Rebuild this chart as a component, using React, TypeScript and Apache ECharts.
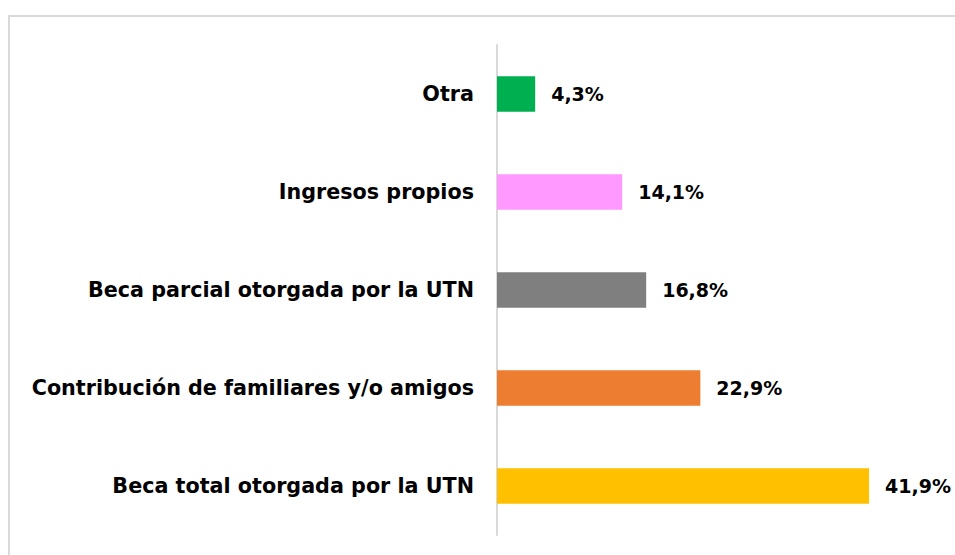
import React, { useEffect, useRef } from "react";
import * as echarts from "echarts";

const categories = [
  "Beca total otorgada por la UTN",
  "Contribución de familiares y/o amigos",
  "Beca parcial otorgada por la UTN",
  "Ingresos propios",
  "Otra",
];
const values = [41.9, 22.9, 16.8, 14.1, 4.3];
const colors = ["#FFC000", "#ED7D31", "#7F7F7F", "#FF99FF", "#00B050"];

const FONT = "'DejaVu Sans', sans-serif";

export default function App() {
  const ref = useRef<HTMLDivElement>(null);
  useEffect(() => {
    if (!ref.current) return;
    const chart = echarts.init(ref.current, undefined, { renderer: "svg" });
    chart.setOption({
      animation: false,
      backgroundColor: "#ffffff",
      graphic: [
        {
          type: "rect",
          shape: { x: 9, y: 16, width: 960, height: 560 },
          style: { fill: "none", stroke: "#d9d9d9", lineWidth: 2 },
          silent: true,
        },
      ],
      grid: { left: 497, right: 14, top: 45, bottom: 20, containLabel: false },
      xAxis: {
        type: "value",
        min: 0,
        max: 50,
        show: false,
        splitLine: { show: false },
      },
      yAxis: {
        type: "category",
        data: categories,
        axisLine: { show: true, lineStyle: { color: "#d9d9d9", width: 2 } },
        axisTick: { show: false },
        axisLabel: {
          margin: 23,
          color: "#000000",
          fontFamily: FONT,
          fontWeight: "bold",
          fontSize: 20.7,
        },
      },
      series: [
        {
          type: "bar",
          data: values.map((v, i) => ({ value: v, itemStyle: { color: colors[i] } })),
          barWidth: "36%",
          label: {
            show: true,
            position: "right",
            distance: 16,
            formatter: (p: any) => p.value.toFixed(1).replace(".", ",") + "%",
            color: "#000000",
            fontFamily: FONT,
            fontWeight: "bold",
            fontSize: 19,
          },
        },
      ],
    });
    return () => chart.dispose();
  }, []);
  return (
    <div
      ref={ref}
      style={{ position: "fixed", left: 0, top: 0, width: 955, height: 555 }}
    />
  );
}
